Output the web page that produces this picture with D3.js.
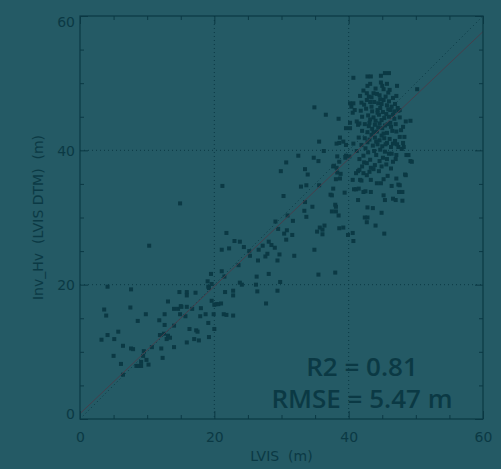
<!DOCTYPE html>
<html>
<head>
<meta charset="utf-8">
<script src="https://cdn.jsdelivr.net/npm/d3@7"></script>
<style>
  html, body { margin: 0; padding: 0; background: #245a65; }
  svg { display: block; font-family: "DejaVu Sans", sans-serif; }
</style>
</head>
<body>
<svg id="chart" width="501" height="469"></svg>
<script>
// LVIS canopy height (m) vs Inv_Hv estimate (m), grouped by canopy height class
const lowCanopy = [
  [3.2,11.8],[3.6,16.3],[3.9,15.4],[4.1,19.7],[4.1,12.5],[5.0,9.4],[5.1,11.9],[5.7,13.0],
  [6.1,8.2],[6.4,10.9],[6.4,6.6],[7.5,16.6],[7.6,19.3],[7.6,10.5],[7.9,10.4],[8.4,7.9],
  [8.7,7.9],[9.1,7.9],[9.1,8.5],[8.6,14.6],[9.4,9.4],[9.5,10.1],[9.8,15.6],[9.9,8.8],
  [10.2,8.1],[10.3,25.8],[10.7,10.7],[11.8,14.7],[11.9,12.5],[12.1,10.5],[12.3,9.1],[12.5,12.7],
  [12.6,14.0],[12.6,15.6],[12.9,11.9],[13.1,12.4],[13.1,17.5],[13.4,12.1],[14.0,13.9],[14.0,10.7],
  [14.0,16.4],[14.6,16.4],[14.8,18.9],[14.9,15.6],[14.9,32.1],[15.0,16.8],[15.1,16.7],[15.7,15.3],
  [15.9,18.9],[15.9,18.4],[15.9,16.7],[15.9,11.4],[16.3,13.4],[16.7,16.4],[17.0,11.9],[17.2,18.8],
  [17.3,13.2],[17.5,13.0],[17.7,11.7],[17.9,15.3],[18.0,16.5],[18.7,15.6],[19.0,20.5],[19.1,14.3],
  [19.1,19.7],[19.2,19.5],[19.2,12.2],[19.5,21.6],[19.6,20.1],[19.6,17.6],[19.9,15.6]
];

const midCanopy = [
  [20.0,17.0],[20.0,13.4],[20.3,17.1],[20.6,17.1],[21.0,17.2],[21.1,22.0],[21.1,25.2],[21.2,34.7],
  [21.4,15.6],[21.5,21.2],[21.6,18.9],[21.8,27.7],[21.8,15.5],[22.2,25.4],[22.8,15.4],[22.8,19.1],
  [22.8,18.4],[23.0,26.5],[23.6,22.9],[23.8,26.4],[23.8,20.3],[24.1,20.0],[24.4,25.6],[25.2,25.0],
  [25.3,24.3],[26.2,20.0],[26.3,21.2],[26.4,19.0],[26.5,23.6],[26.6,25.2],[27.2,25.8],[27.6,24.2],
  [27.7,17.2],[27.9,24.6],[28.1,26.4],[28.1,21.6],[28.5,25.9],[29.0,25.5],[29.1,29.4],[29.4,23.6],
  [29.4,19.1],[29.5,28.3],[29.7,24.5],[29.8,20.4],[29.9,36.9],[30.3,33.2],[30.4,27.6],[30.7,38.2],
  [30.7,26.7],[30.8,28.1],[30.9,30.3],[31.6,27.4],[31.7,29.5],[31.9,24.3],[32.5,39.2],[32.9,34.6],
  [33.4,31.0],[33.5,37.2],[33.5,32.3],[33.7,34.8],[33.7,30.1],[33.9,36.4],[34.6,31.6],[34.8,38.9],
  [34.9,46.4],[34.9,25.2],[35.3,27.9],[35.5,38.4],[35.5,21.5],[35.6,41.3],[35.6,34.8],[35.7,28.5],
  [36.1,28.2],[36.1,27.5],[36.3,39.9],[36.4,28.8],[36.6,45.3],[37.3,33.4],[37.5,30.9],[37.5,33.3],
  [37.7,34.3],[37.7,37.6],[37.8,37.7]
];

const tallCanopy = [
  [38.0,21.8],[38.0,31.9],[38.1,35.7],[38.1,31.6],[38.1,30.9],[38.2,37.4],[38.2,41.0],[38.3,39.1],
  [38.3,36.7],[38.5,44.7],[38.5,30.3],[38.6,41.1],[38.6,38.3],[38.6,28.4],[38.7,41.9],[38.7,35.8],
  [38.8,36.5],[39.2,41.3],[39.2,28.5],[39.4,33.7],[39.5,38.9],[39.6,43.3],[39.6,40.8],[39.6,39.2],
  [39.9,27.4],[40.1,39.1],[40.2,44.1],[40.2,47.0],[40.2,43.3],[40.4,46.5],[40.6,45.6],[40.6,35.6],
  [40.6,27.7],[40.7,50.8],[40.7,47.0],[40.7,41.0],[40.7,26.5],[40.8,34.2],[40.9,46.0],[41.1,36.6],
  [41.1,34.2],[41.2,44.3],[41.4,43.8],[41.4,36.9],[41.4,32.6],[41.5,34.3],[41.6,37.1],[41.7,48.1],
  [41.7,35.6],[41.9,47.1],[41.9,35.5],[42.2,36.6],[42.2,33.8],[42.3,38.2],[42.4,30.0],[42.5,33.9],
  [42.7,48.5],[42.7,47.5],[42.7,36.3],[42.7,29.3],[42.8,51.0],[42.8,49.6],[42.8,31.5],[42.8,30.0],
  [43.1,36.8],[43.2,49.9],[43.2,47.2],[43.3,51.0],[43.3,37.4],[43.3,35.6],[43.3,33.8],[43.4,46.5],
  [43.6,31.4],[43.7,48.5],[43.7,37.2],[44.0,28.8],[44.2,48.4],[44.2,35.1],[44.4,47.0],[44.5,36.9],
  [44.7,46.3],[44.8,51.1],[44.8,50.1],[44.8,35.1],[44.9,30.7],[45.2,49.1],[45.2,47.5],[45.2,35.7],
  [45.2,33.3],[45.3,27.6],[45.4,51.5],[45.4,32.6],[45.7,49.9],[45.7,46.7],[45.8,36.2],[46.0,51.5],
  [46.1,49.0],[46.2,46.0],[46.3,37.3],[46.4,34.7],[46.4,39.5],[46.6,45.3],[46.6,32.8],[46.6,41.0],
  [47.0,38.7],[47.0,32.6],[47.1,48.1],[47.1,35.8],[47.1,39.3],[47.1,42.8],[47.4,45.9],[47.4,34.9],
  [47.4,40.5],[47.5,33.8],[47.6,46.0],[47.6,44.9],[47.6,42.0],[47.6,34.8],[47.9,40.2],[48.0,33.8],
  [48.0,32.5],[48.1,43.5],[48.1,41.1],[48.2,40.5],[48.3,42.0],[48.4,36.4],[48.5,44.3],[48.5,36.3],
  [48.6,39.3],[48.9,39.3],[49.2,44.4],[49.2,38.4],[49.4,38.3],[50.2,49.1]
];

// dense core of the tall-canopy cluster
const tallCore = [
  [43.0,48.0],[44.6,48.2],[45.5,48.0],[46.6,47.8],[42.3,46.8],[43.8,47.2],[44.9,46.9],[46.0,47.3],
  [46.9,46.9],[41.8,45.9],[42.6,46.2],[43.5,45.8],[44.3,46.0],[45.1,45.7],[45.9,46.1],[46.8,45.8],
  [47.3,46.3],[42.0,45.0],[42.9,45.2],[43.7,44.9],[44.5,45.3],[45.3,44.8],[46.0,45.0],[46.8,44.7],
  [43.2,44.6],[44.9,44.5],[41.6,44.0],[42.4,43.9],[43.1,44.1],[43.9,43.8],[44.6,44.0],[45.4,43.7],
  [46.2,44.1],[47.0,43.9],[45.0,43.3],[43.5,43.2],[42.0,42.9],[42.8,42.7],[44.2,42.8],[45.7,42.6],
  [46.5,42.9],[47.8,43.0],[43.4,42.3],[44.9,42.2],[41.5,41.9],[42.4,41.8],[43.1,41.6],[43.9,41.9],
  [44.6,41.5],[45.3,41.8],[46.1,41.7],[46.9,41.4],[42.8,41.2],[45.7,41.1],[41.9,40.8],[43.6,40.7],
  [44.3,40.9],[45.0,40.6],[46.3,40.5],[47.2,40.9],[42.5,40.3],[44.7,40.1],[41.2,39.9],[42.9,39.7],
  [43.8,39.9],[45.4,39.8],[46.0,39.5],[44.1,39.3],[42.2,39.2],[45.1,38.9],[41.6,38.7],[43.2,38.6],
  [44.6,38.4],[45.7,38.7],[46.6,38.3],[42.7,38.1],[43.9,37.8],[44.9,37.6],[45.6,37.9],[42.0,37.6],
  [44.3,45.6],[45.6,45.4],[44.0,44.4],[45.8,43.9],[44.4,43.4],[46.3,43.5],[43.7,42.7],[45.2,42.5],
  [44.1,41.3],[45.5,40.9],[43.0,43.6],[46.4,46.5],[44.7,47.6],[43.4,47.9],[45.9,48.6],[44.0,49.2],
  [45.0,49.6],[42.2,48.9],[47.2,49.6]
];

// axis configuration
const axisDomain = [0, 60];
const majorTicks = [0, 20, 40, 60];
const minorTicks = [5, 10, 15, 25, 30, 35, 45, 50, 55];
const gridValues = [20, 40];

// least-squares fit (intercept, slope) and summary statistics
const fitIntercept = 0.8;
const fitSlope = 0.948;
const statsLines = ["R2 = 0.81", "RMSE = 5.47 m"];

const xTitle = "LVIS  (m)";
const yTitle = "Inv_Hv  (LVIS DTM)  (m)";

const ink = "#0b3944";
const labelFont = "'DejaVu Sans', sans-serif";
const svg = d3.select("#chart");

const plotLeft = 80, plotRight = 483, plotTop = 16, plotBottom = 419;
const x = d3.scaleLinear().domain(axisDomain).range([plotLeft, plotRight]);
const y = d3.scaleLinear().domain(axisDomain).range([plotBottom, plotTop]);

// dotted reference grid
const grid = svg.append("g").attr("stroke", ink).attr("stroke-width", 1)
  .attr("stroke-dasharray", "1,3").attr("fill", "none");
gridValues.forEach(v => {
  grid.append("line").attr("x1", x(v)).attr("x2", x(v)).attr("y1", plotTop).attr("y2", plotBottom);
  grid.append("line").attr("x1", plotLeft).attr("x2", plotRight).attr("y1", y(v)).attr("y2", y(v));
});
// 1:1 line
grid.append("line")
  .attr("x1", x(axisDomain[0])).attr("y1", y(axisDomain[0]))
  .attr("x2", x(axisDomain[1])).attr("y2", y(axisDomain[1]));

// scatter points
const allPoints = lowCanopy.concat(midCanopy, tallCanopy, tallCore);
svg.append("g").selectAll("rect")
  .data(allPoints)
  .join("rect")
  .attr("x", d => x(d[0]) - 2)
  .attr("y", d => y(d[1]) - 2)
  .attr("width", 4)
  .attr("height", 4)
  .attr("fill", ink);

// regression line
svg.append("line")
  .attr("x1", x(axisDomain[0])).attr("y1", y(fitIntercept + fitSlope * axisDomain[0]))
  .attr("x2", x(axisDomain[1])).attr("y2", y(fitIntercept + fitSlope * axisDomain[1]))
  .attr("stroke", "#463f4c").attr("stroke-width", 1);

// axes with inward ticks on all four sides
function styleAxis(g) {
  g.select(".domain").remove();
  g.selectAll(".tick line").attr("stroke", ink).attr("stroke-width", 1);
  g.selectAll(".tick text").attr("fill", ink).attr("font-size", 14)
    .attr("font-family", labelFont);
}
const sides = [
  [d3.axisBottom(x), `translate(0,${plotBottom})`],
  [d3.axisLeft(y), `translate(${plotLeft},0)`],
  [d3.axisTop(x), `translate(0,${plotTop})`],
  [d3.axisRight(y), `translate(${plotRight},0)`]
];
sides.forEach(([axis, tr]) => {
  svg.append("g").attr("transform", tr)
    .call(axis.tickValues(minorTicks).tickSize(-4).tickSizeOuter(0).tickFormat(""))
    .call(styleAxis);
});

svg.append("g").attr("transform", `translate(0,${plotBottom})`)
  .call(d3.axisBottom(x).tickValues(majorTicks).tickSize(-8).tickSizeOuter(0).tickPadding(13).tickFormat(d3.format("d")))
  .call(styleAxis);
const leftMajor = svg.append("g").attr("transform", `translate(${plotLeft},0)`)
  .call(d3.axisLeft(y).tickValues(majorTicks).tickSize(-8).tickSizeOuter(0).tickPadding(5).tickFormat(d3.format("d")))
  .call(styleAxis);
// keep end labels inside the frame height
leftMajor.selectAll(".tick text")
  .attr("dy", d => d === axisDomain[1] ? "0.75em" : d === axisDomain[0] ? "-0.05em" : "0.35em");
svg.append("g").attr("transform", `translate(0,${plotTop})`)
  .call(d3.axisTop(x).tickValues(majorTicks).tickSize(-8).tickSizeOuter(0).tickFormat(""))
  .call(styleAxis);
svg.append("g").attr("transform", `translate(${plotRight},0)`)
  .call(d3.axisRight(y).tickValues(majorTicks).tickSize(-8).tickSizeOuter(0).tickFormat(""))
  .call(styleAxis);

// plot frame
svg.append("rect")
  .attr("x", plotLeft).attr("y", plotTop)
  .attr("width", plotRight - plotLeft).attr("height", plotBottom - plotTop)
  .attr("fill", "none").attr("stroke", ink).attr("stroke-width", 1.2);

// axis titles
svg.append("text")
  .attr("x", (plotLeft + plotRight) / 2).attr("y", 461)
  .attr("text-anchor", "middle").attr("fill", ink)
  .attr("font-family", labelFont).attr("font-size", 14)
  .style("white-space", "pre")
  .text(xTitle);
svg.append("text")
  .attr("transform", `translate(43,${(plotTop + plotBottom) / 2}) rotate(-90)`)
  .attr("text-anchor", "middle").attr("fill", ink)
  .attr("font-family", labelFont).attr("font-size", 14)
  .style("white-space", "pre")
  .text(yTitle);

// fit statistics
statsLines.forEach((s, i) => {
  svg.append("text")
    .attr("x", 362).attr("y", 376 + i * 32)
    .attr("text-anchor", "middle")
    .attr("fill", ink)
    .attr("font-family", "'Open Sans', 'Noto Sans', sans-serif")
    .attr("font-size", 26)
    .attr("font-weight", 600)
    .text(s);
});
</script>
</body>
</html>
